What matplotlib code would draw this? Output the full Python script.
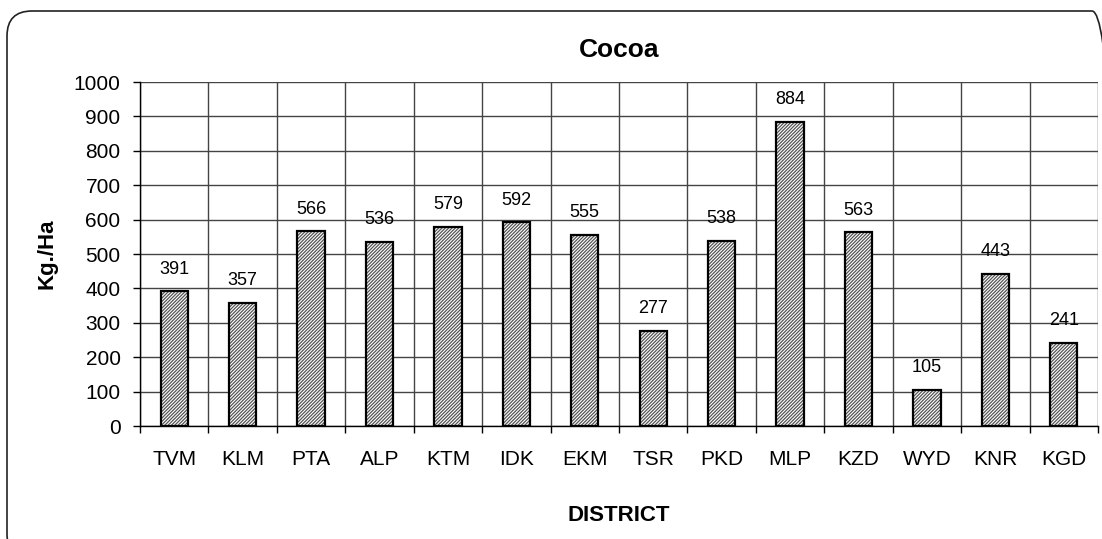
import matplotlib.pyplot as plt
import matplotlib.patches as mpatches
import numpy as np

plt.rcParams['font.family'] = ['Liberation Sans', 'DejaVu Sans']
plt.rcParams['hatch.linewidth'] = 0.9

# district yields of cocoa
districts = ['TVM', 'KLM', 'PTA', 'ALP', 'KTM', 'IDK', 'EKM', 'TSR', 'PKD', 'MLP',
             'KZD', 'WYD', 'KNR', 'KGD']
yields = [391, 357, 566, 536, 579, 592, 555, 277, 538, 884, 563, 105, 443, 241]

W, H = 1102, 539
fig = plt.figure(figsize=(W / 100, H / 100), dpi=100)
ax = fig.add_axes([140 / W, 1 - 426 / H, 958 / W, 344 / H])

# rounded frame round the chart (runs off the right and bottom edge)
frame = mpatches.FancyBboxPatch((7 / W, -20 / H), 1110 / W, (H - 11 + 20) / H,
                                boxstyle='round,pad=0,rounding_size=%f' % (25 / W),
                                transform=fig.transFigure, fill=False,
                                edgecolor='#222222', linewidth=1.2,
                                mutation_aspect=W / H)
fig.patches.append(frame)

x = np.arange(len(districts))
# hatch fill in gray, then a black outline on top
ax.bar(x, yields, width=0.4, color='white', edgecolor='#555555',
       linewidth=0, hatch='//////////', zorder=3)
ax.bar(x, yields, width=0.4, fill=False, edgecolor='black',
       linewidth=1.6, zorder=4)

for xi, v in zip(x, yields):
    ax.text(xi, v + 40, str(v), ha='center', va='bottom', fontsize=13)

ax.set_xlim(-0.5, len(districts) - 0.5)
ax.set_ylim(0, 1000)
ax.set_yticks(np.arange(0, 1001, 100))
ax.set_xticks(x)
ax.set_xticklabels(districts, fontsize=15)
ax.tick_params(axis='x', which='major', length=0, pad=17)
ax.tick_params(axis='y', labelsize=15, length=5, width=1, pad=9)

# category boundary lines and horizontal grid
ax.set_xticks(np.arange(-0.5, len(districts)), minor=True)
ax.tick_params(axis='x', which='minor', length=5, width=1, direction='out')
ax.grid(axis='y', color='#444444', linewidth=1, zorder=0)
ax.grid(axis='x', which='minor', color='#444444', linewidth=1, zorder=0)

for side in ['top', 'right']:
    ax.spines[side].set_visible(False)
ax.spines['left'].set_linewidth(1)
ax.spines['bottom'].set_linewidth(1)

ax.set_title('Cocoa', fontsize=19, fontweight='bold', pad=18)
ax.set_ylabel('Kg./Ha', fontsize=16, fontweight='bold', labelpad=12)
ax.set_xlabel('DISTRICT', fontsize=16, fontweight='bold', labelpad=26)

fig.savefig('out.png', dpi=100)
